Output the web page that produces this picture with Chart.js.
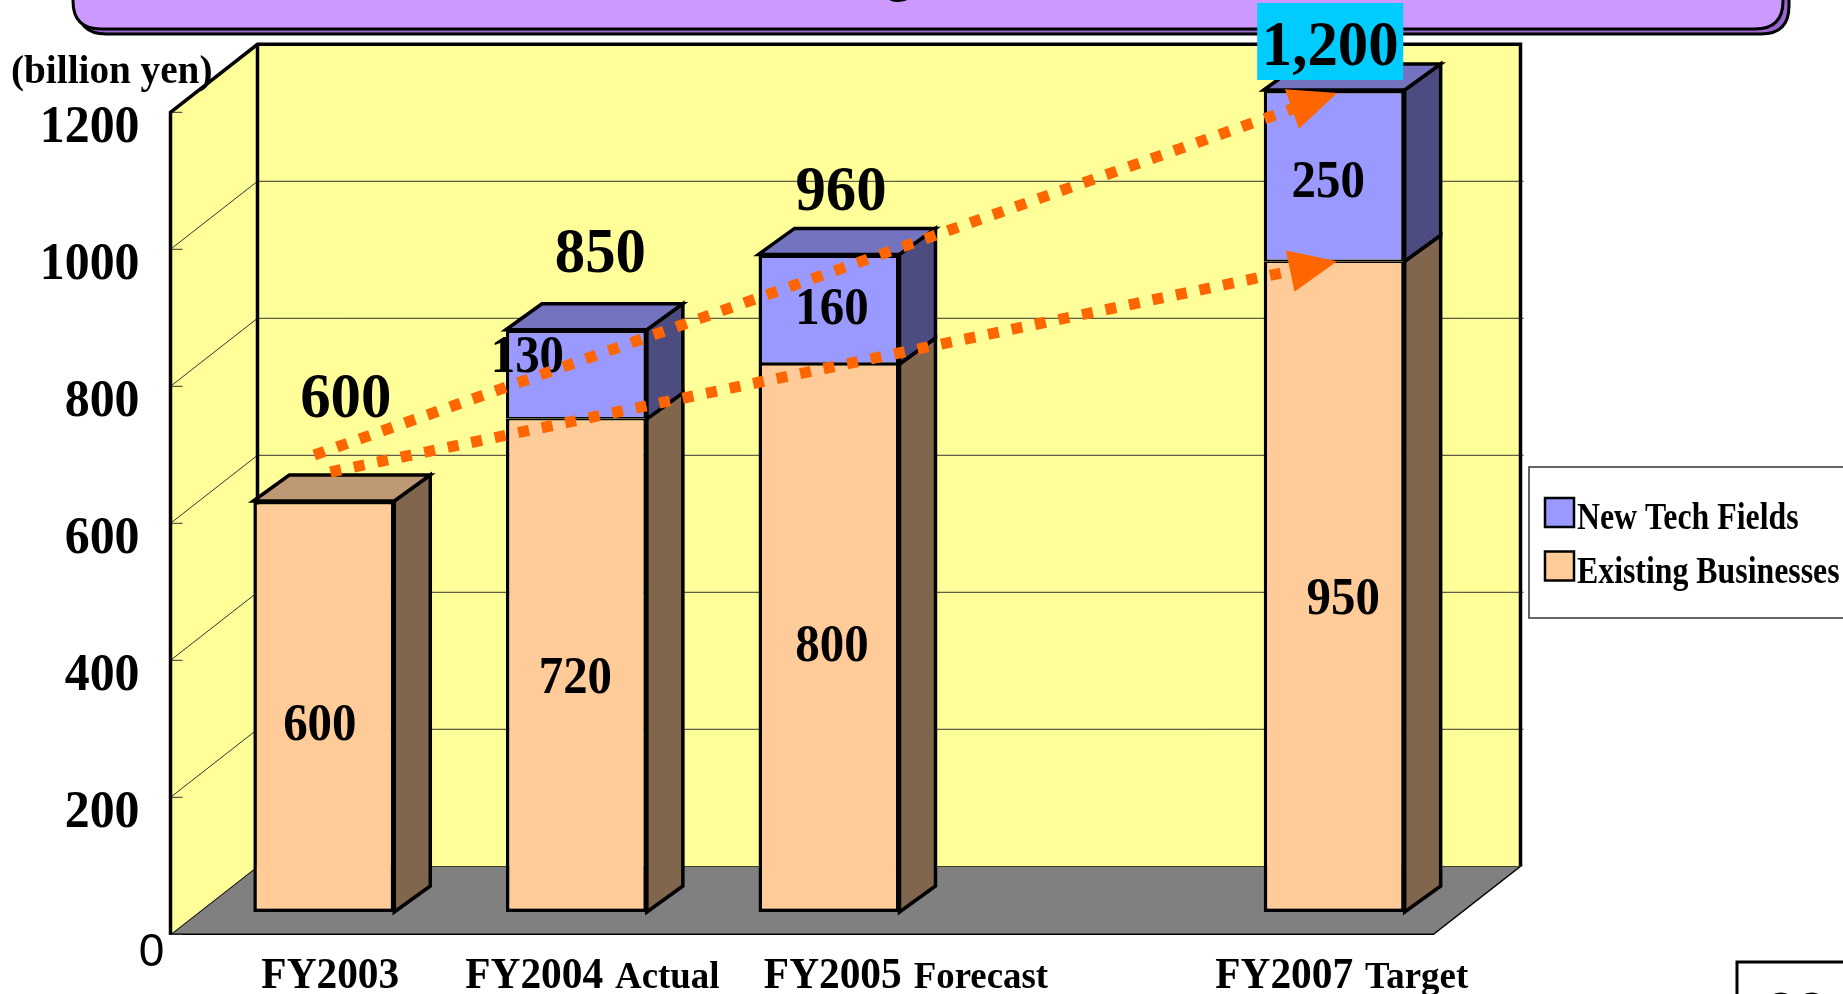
<!DOCTYPE html>
<html>
<head>
<meta charset="utf-8">
<script src="https://cdn.jsdelivr.net/npm/chart.js@4.4.1/dist/chart.umd.min.js"></script>
<style>
  html, body { margin: 0; padding: 0; background: #ffffff; overflow: hidden; }
  canvas { display: block; }
</style>
</head>
<body>
<canvas id="salesChart" width="1843" height="994"></canvas>
<script>
const categories = ['FY2003', 'FY2004 Actual', 'FY2005 Forecast', '', 'FY2007 Target'];
const existingBusinesses = [600, 720, 800, null, 950];
const newTechFields = [null, 130, 160, null, 250];
const yTicks = [0, 200, 400, 600, 800, 1000, 1200];

const FONT_SERIF = '"Liberation Serif", "Times New Roman", serif';
const FONT_SANS = '"Liberation Sans", Arial, sans-serif';

// 3D geometry (pixels): front plane of the walls relative to the bar plane, wall depth, bar depth
const FRONT = { dx: -27, dy: 22.3 };
const DEPTH = { dx: 87, dy: -68 };
const BAR_DEPTH = { dx: 36, dy: -26 };

// hand placed label nudges, as in the slide
const innerNudge = [
    [[-4, 16], [-1, 10], [3, 5], null, [9, 10]],
    [null, [-49, -20], [3, -3], null, [-6, 4]]
];
const totalNudge = [[22, -106], [24, -79], [12, -66], null, [-4, -47]];
const xLabelNudge = [6.5, 16, 77, 0, 7.5];
const highlightIndex = 4;

function drawText(ctx, str, x, baseline, size, opts) {
    const o = Object.assign({ align: 'center', sx: 0.94, family: FONT_SERIF, weight: 'bold', color: '#000000' }, opts || {});
    ctx.save();
    ctx.font = o.weight + ' ' + size + 'px ' + o.family;
    ctx.fillStyle = o.color;
    ctx.textAlign = o.align;
    ctx.textBaseline = 'alphabetic';
    ctx.translate(x, baseline);
    ctx.scale(o.sx, 1);
    ctx.fillText(str, 0, 0);
    ctx.restore();
}

function textWidth(ctx, str, size, sx, weight, family) {
    ctx.save();
    ctx.font = (weight || 'bold') + ' ' + size + 'px ' + (family || FONT_SERIF);
    const w = ctx.measureText(str).width * sx;
    ctx.restore();
    return w;
}

function polygon(ctx, pts, fill, stroke, width) {
    ctx.beginPath();
    pts.forEach((p, i) => i ? ctx.lineTo(p[0], p[1]) : ctx.moveTo(p[0], p[1]));
    ctx.closePath();
    if (fill) { ctx.fillStyle = fill; ctx.fill(); }
    if (stroke) { ctx.strokeStyle = stroke; ctx.lineWidth = width; ctx.lineJoin = 'miter'; ctx.stroke(); }
}

function line(ctx, x0, y0, x1, y1) {
    ctx.beginPath();
    ctx.moveTo(x0, y0);
    ctx.lineTo(x1, y1);
    ctx.stroke();
}

function roundedRect(ctx, x, y, w, h, r) {
    ctx.beginPath();
    ctx.moveTo(x + r, y);
    ctx.lineTo(x + w - r, y);
    ctx.quadraticCurveTo(x + w, y, x + w, y + r);
    ctx.lineTo(x + w, y + h - r);
    ctx.quadraticCurveTo(x + w, y + h, x + w - r, y + h);
    ctx.lineTo(x + r, y + h);
    ctx.quadraticCurveTo(x, y + h, x, y + h - r);
    ctx.lineTo(x, y + r);
    ctx.quadraticCurveTo(x, y, x + r, y);
    ctx.closePath();
}

function drawBanner(ctx) {
    ctx.save();
    ctx.lineWidth = 3;
    ctx.strokeStyle = '#000000';
    roundedRect(ctx, 78, -80, 1711, 114, 28);
    ctx.fillStyle = '#9966cc';
    ctx.fill();
    ctx.stroke();
    roundedRect(ctx, 73, -80, 1710, 109, 28);
    ctx.fillStyle = '#cc99ff';
    ctx.fill();
    ctx.stroke();
    // the title sits above the visible area, only a descender shows
    const title = 'Consolidated Sales Targets';
    const prefix = title.slice(0, title.indexOf('g'));
    const start = 899 - textWidth(ctx, prefix, 52, 1) - textWidth(ctx, 'g', 52, 1) / 2;
    drawText(ctx, title, start, -9, 52, { align: 'left', sx: 1 });
    ctx.restore();
}

function stackTop(chart, j) {
    let top = null;
    chart.data.datasets.forEach((ds, i) => {
        if (ds.data[j] != null) top = chart.getDatasetMeta(i).data[j];
    });
    return top;
}

function drawArrow(ctx, x0, y0, x1, y1) {
    const ang = Math.atan2(y1 - y0, x1 - x0);
    const c = Math.cos(ang), s = Math.sin(ang);
    const len = 48, half = 21;
    const bx = x1 - len * c, by = y1 - len * s;
    ctx.save();
    ctx.strokeStyle = '#ff6600';
    ctx.lineWidth = 11;
    ctx.setLineDash([11, 13]);
    line(ctx, x0, y0, bx + 4 * c, by + 4 * s);
    ctx.setLineDash([]);
    polygon(ctx, [[x1, y1], [bx - s * half, by + c * half], [bx + s * half, by - c * half]], '#ff6600');
    ctx.restore();
}

const threeDPlugin = {
    id: 'threeD',
    beforeDraw(chart) {
        const { ctx, chartArea: area } = chart;
        const y = chart.scales.y;
        const fx0 = area.left + FRONT.dx, fx1 = area.right + FRONT.dx;
        const bx0 = fx0 + DEPTH.dx, bx1 = fx1 + DEPTH.dx;
        const fy = v => y.getPixelForValue(v) + FRONT.dy;
        const by = v => fy(v) + DEPTH.dy;
        const vMin = yTicks[0], vMax = yTicks[yTicks.length - 1];

        ctx.save();
        ctx.fillStyle = '#ffffff';
        ctx.fillRect(0, 0, chart.width, chart.height);
        drawBanner(ctx);

        // floor
        polygon(ctx, [[fx0, fy(vMin)], [bx0, by(vMin)], [bx1, by(vMin)], [fx1, fy(vMin)]], '#808080', '#000000', 1.5);
        // back wall and side wall
        polygon(ctx, [[bx0, by(vMax)], [bx1, by(vMax)], [bx1, by(vMin)], [bx0, by(vMin)]], '#ffff99');
        polygon(ctx, [[fx0, fy(vMax)], [bx0, by(vMax)], [bx0, by(vMin)], [fx0, fy(vMin)]], '#ffff99');

        // gridlines
        ctx.strokeStyle = '#333333';
        ctx.lineWidth = 1;
        yTicks.forEach(v => {
            if (v !== vMin && v !== vMax) {
                line(ctx, fx0, fy(v), bx0, by(v));
                line(ctx, bx0, by(v), bx1 + 3, by(v));
            }
            line(ctx, fx0, fy(v), fx0 + 12, fy(v));
        });

        // wall outlines
        ctx.strokeStyle = '#000000';
        ctx.lineWidth = 3.5;
        ctx.lineJoin = 'miter';
        ctx.beginPath();
        ctx.moveTo(fx0, fy(vMin));
        ctx.lineTo(fx0, fy(vMax));
        ctx.lineTo(bx0, by(vMax));
        ctx.lineTo(bx1, by(vMax));
        ctx.lineTo(bx1, by(vMin));
        ctx.stroke();
        line(ctx, bx0, by(vMax), bx0, by(vMin));

        // y axis labels
        yTicks.forEach(v => {
            if (v === vMin) {
                drawText(ctx, String(v), fx0 - 19, fy(v) + 32, 46, { weight: 'normal', family: FONT_SANS, sx: 1 });
            } else {
                drawText(ctx, String(v), fx0 - 31, fy(v) + 12 + 18, 53, { align: 'right' });
            }
        });
        drawText(ctx, '(billion yen)', 11, 83, 40, { align: 'left', sx: 0.98 });
        ctx.restore();
    },
    beforeDatasetsDraw(chart) {
        const ctx = chart.ctx;
        ctx.save();
        categories.forEach((c, j) => {
            const top = stackTop(chart, j);
            chart.data.datasets.forEach((ds, i) => {
                if (ds.data[j] == null) return;
                const bar = chart.getDatasetMeta(i).data[j];
                const xl = bar.x - bar.width / 2, xr = bar.x + bar.width / 2;
                const yt = bar.y, yb = bar.base;
                polygon(ctx, [[xr, yt], [xr + BAR_DEPTH.dx, yt + BAR_DEPTH.dy], [xr + BAR_DEPTH.dx, yb + BAR_DEPTH.dy], [xr, yb]], ds.sideColor, '#000000', 3.5);
                if (bar === top) {
                    polygon(ctx, [[xl, yt], [xl + BAR_DEPTH.dx, yt + BAR_DEPTH.dy], [xr + BAR_DEPTH.dx, yt + BAR_DEPTH.dy], [xr, yt]], ds.topColor, '#000000', 3.5);
                }
            });
        });
        ctx.restore();
    },
    afterDatasetsDraw(chart) {
        const ctx = chart.ctx;
        const y = chart.scales.y;
        ctx.save();

        // values inside the bars
        chart.data.datasets.forEach((ds, i) => {
            ds.data.forEach((v, j) => {
                if (v == null) return;
                const bar = chart.getDatasetMeta(i).data[j];
                const n = innerNudge[i][j] || [0, 0];
                drawText(ctx, String(v), bar.x + n[0], (bar.y + bar.base) / 2 + n[1] + 17.5, 52);
            });
        });

        // totals above the bars
        categories.forEach((c, j) => {
            const top = stackTop(chart, j);
            if (!top) return;
            const total = chart.data.datasets.reduce((s, ds) => s + (ds.data[j] || 0), 0);
            const n = totalNudge[j] || [0, -60];
            const cx = top.x + n[0], cy = top.y + n[1];
            const label = total.toLocaleString('en-US');
            if (j === highlightIndex) {
                ctx.fillStyle = '#00ccff';
                ctx.fillRect(cx - 73, cy - 40, 146, 77);
            }
            drawText(ctx, label, cx, cy + 21.5, 64, { sx: 0.95 });
        });

        // trend arrows: totals and existing businesses, first to last year
        const first = 0, last = categories.length - 1;
        const b0 = chart.getDatasetMeta(0).data[first];
        const b1 = chart.getDatasetMeta(0).data[last];
        drawArrow(ctx, b0.x - 9.5, stackTop(chart, first).y - 46, b1.x + 3, stackTop(chart, last).y + 3);
        drawArrow(ctx, b0.x + 6.5, y.getPixelForValue(existingBusinesses[first]) - 29, b1.x + 3, y.getPixelForValue(existingBusinesses[last]));

        // category labels
        const baseY = y.getPixelForValue(0) + FRONT.dy + 54;
        categories.forEach((label, j) => {
            if (!label) return;
            const parts = label.split(' ');
            const main = parts[0], suffix = parts.slice(1).join(' ');
            const wMain = textWidth(ctx, main, 44, 0.94);
            const wSpace = suffix ? 12 : 0;
            const wSuffix = suffix ? textWidth(ctx, suffix, 38, 0.97) : 0;
            const x = chart.getDatasetMeta(0).data[j].x + xLabelNudge[j] - (wMain + wSpace + wSuffix) / 2;
            drawText(ctx, main, x, baseY, 44, { align: 'left' });
            if (suffix) drawText(ctx, suffix, x + wMain + wSpace, baseY, 38, { align: 'left', sx: 0.97 });
        });

        // legend
        ctx.fillStyle = '#ffffff';
        ctx.fillRect(1529, 467, 330, 151);
        ctx.strokeStyle = '#333333';
        ctx.lineWidth = 1.5;
        ctx.strokeRect(1529, 467, 330, 151);
        chart.data.datasets.slice().reverse().forEach((ds, k) => {
            const top = 498 + k * 53.5;
            ctx.fillStyle = ds.backgroundColor;
            ctx.fillRect(1545, top, 29, 29);
            ctx.strokeStyle = '#000000';
            ctx.lineWidth = 2.5;
            ctx.strokeRect(1545, top, 29, 29);
            drawText(ctx, ds.label, 1577, top + 31, 37, { align: 'left', sx: 0.86 });
        });

        // page number box
        ctx.fillStyle = '#ffffff';
        ctx.fillRect(1737, 962, 200, 100);
        ctx.strokeStyle = '#000000';
        ctx.lineWidth = 3;
        ctx.strokeRect(1737, 962, 200, 100);
        drawText(ctx, '23', 1796, 1031, 56, { weight: 'normal', family: FONT_SANS, sx: 1 });
        ctx.restore();
    }
};

function barBorder(isLower) {
    return function (context) {
        const j = context.dataIndex;
        const covered = isLower ? newTechFields[j] != null : false;
        const onTop = !isLower && existingBusinesses[j] != null;
        return { top: covered ? 1.75 : 3.5, bottom: onTop ? 1.75 : 3.5, left: 3.5, right: 3.5 };
    };
}

function createSalesChart() {
    const ctx = document.getElementById('salesChart').getContext('2d');

    const salesChartConfig = {
        type: 'bar',
        data: {
            labels: categories,
            datasets: [
                {
                    label: 'Existing Businesses',
                    data: existingBusinesses,
                    backgroundColor: '#ffcc99',
                    topColor: '#bf9973',
                    sideColor: '#80664c',
                    borderColor: '#000000',
                    borderWidth: barBorder(true),
                    borderSkipped: false
                },
                {
                    label: 'New Tech Fields',
                    data: newTechFields,
                    backgroundColor: '#9999ff',
                    topColor: '#7373bf',
                    sideColor: '#4c4c80',
                    borderColor: '#000000',
                    borderWidth: barBorder(false),
                    borderSkipped: false
                }
            ]
        },
        options: {
            responsive: false,
            animation: false,
            devicePixelRatio: 1,
            layout: {
                padding: { left: 197.5, right: 382.5, top: 90, bottom: 82 }
            },
            datasets: {
                bar: { barPercentage: 0.558, categoryPercentage: 1.0 }
            },
            scales: {
                x: { display: false, stacked: true, grid: { display: false } },
                y: { display: false, stacked: true, min: 0, max: 1200 }
            },
            plugins: {
                legend: { display: false },
                tooltip: { enabled: false }
            }
        },
        plugins: [threeDPlugin]
    };

    new Chart(ctx, salesChartConfig);
}

createSalesChart();
</script>
</body>
</html>
